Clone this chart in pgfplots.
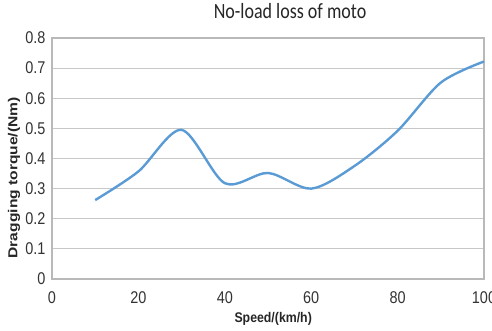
\documentclass[border=0pt]{standalone}
\usepackage{pgfplots}
\pgfplotsset{compat=1.18}
\usepackage{fontspec}
\setmainfont{Liberation Sans}
\newfontfamily\tickfont[FakeStretch=0.85]{Liberation Sans}
\newfontfamily\titlefont[FakeStretch=0.83]{Carlito}
\newfontfamily\labfontx[FakeStretch=0.88]{Liberation Sans}
\newfontfamily\labfonty[FakeStretch=1.2]{Liberation Sans}
\definecolor{lineblue}{RGB}{91,155,213}
\definecolor{gridgray}{RGB}{200,200,200}
\definecolor{boxgray}{RGB}{185,185,185}
\begin{document}
\begin{tikzpicture}[x=1pt,y=1pt]
\useasboundingbox (-52,-52) rectangle (440,279);
\begin{axis}[
  at={(0,0)}, anchor=south west,
  scale only axis,
  width=432pt, height=241pt,
  xmin=0, xmax=100, ymin=0, ymax=0.8,
  xtick={0,20,...,100},
  ytick={0,0.1,...,0.8},
  yticklabels={0,0.1,0.2,0.3,0.4,0.5,0.6,0.7,0.8},
  /pgf/number format/assume math mode=true,
  ticklabel style={font=\tickfont\fontsize{17}{17}\selectfont, text=black!80},
  xticklabel style={yshift=-9pt},
  yticklabel style={xshift=-3pt},
  major tick length=0pt,
  ymajorgrids,
  grid style={gridgray, line width=1pt},
  axis line style={boxgray, line width=1.2pt},
  title={No-load loss of moto},
  title style={font=\titlefont\fontsize{21.7}{22}\selectfont, text=black!85, at={(0.551,1)}, anchor=center, yshift=21pt},
  xlabel={Speed/(km/h)},
  xlabel style={font=\labfontx\bfseries\fontsize{14}{14}\selectfont, text=black!85, at={(0.512,0)}, anchor=center, yshift=-40pt},
  ylabel={Dragging torque/(Nm)},
  ylabel style={font=\labfonty\bfseries\fontsize{13}{13}\selectfont, text=black!85, at={(0,0.42)}, anchor=center, yshift=38pt},
]
\addplot[lineblue, line width=2.4pt, smooth, no marks] coordinates {
  (10,0.262) (20,0.357) (30,0.495) (40,0.318) (50,0.352)
  (60,0.300) (70,0.375) (80,0.492) (90,0.652) (100,0.722)
};
\end{axis}
\end{tikzpicture}
\end{document}
